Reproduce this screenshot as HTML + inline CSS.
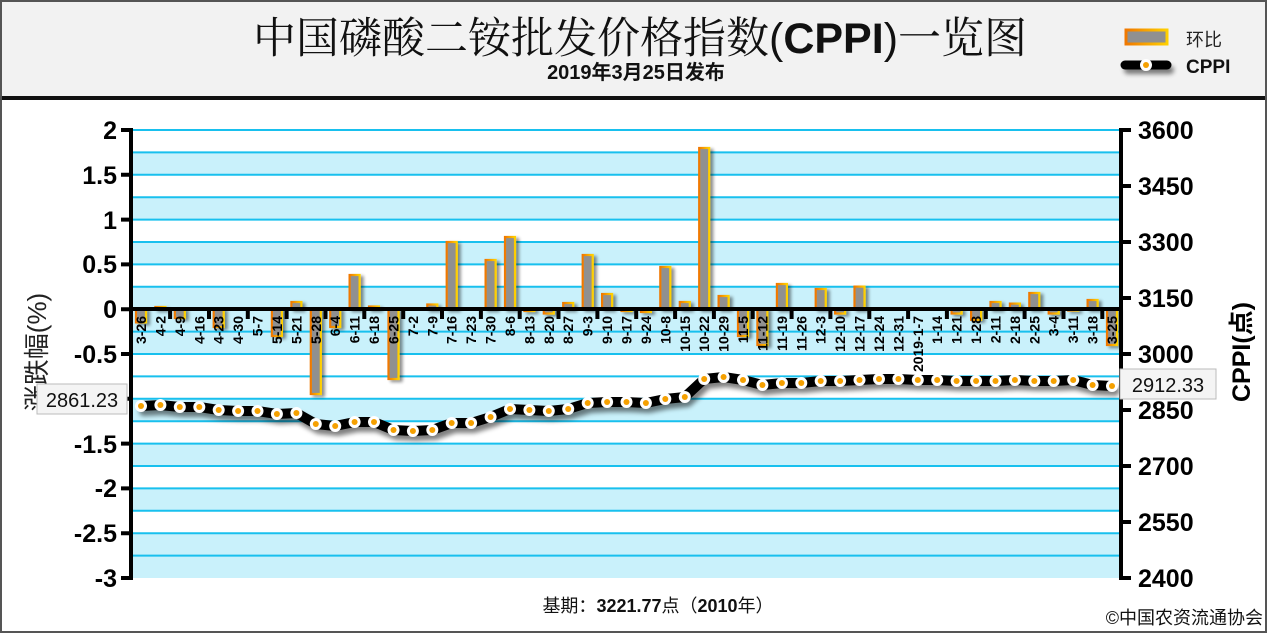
<!DOCTYPE html>
<html><head><meta charset="utf-8"><style>
html,body{margin:0;padding:0;background:#fff;}
svg{display:block;font-family:"Liberation Sans","Noto Sans CJK SC",sans-serif;}
</style></head><body>
<svg width="1269" height="636" viewBox="0 0 1269 636" xmlns="http://www.w3.org/2000/svg">
<defs>
<filter id="sh" filterUnits="userSpaceOnUse" x="100" y="340" width="1050" height="120"><feGaussianBlur in="SourceAlpha" stdDeviation="2.5"/><feOffset dx="3" dy="5" result="b"/><feComponentTransfer><feFuncA type="linear" slope="0.5"/></feComponentTransfer><feMerge><feMergeNode/><feMergeNode in="SourceGraphic"/></feMerge></filter>
<filter id="bs" filterUnits="userSpaceOnUse" x="100" y="120" width="1050" height="300"><feGaussianBlur in="SourceAlpha" stdDeviation="1.5"/><feOffset dx="3" dy="2"/><feComponentTransfer><feFuncA type="linear" slope="0.45"/></feComponentTransfer><feMerge><feMergeNode/><feMergeNode in="SourceGraphic"/></feMerge></filter>
<filter id="lb" filterUnits="userSpaceOnUse" x="1100" y="50" width="100" height="40"><feGaussianBlur stdDeviation="2.5"/></filter>
<linearGradient id="og" x1="0" y1="0" x2="1" y2="0"><stop offset="0" stop-color="#f07800"/><stop offset="1" stop-color="#ffd000"/></linearGradient>
</defs>
<rect x="1" y="1" width="1265" height="631" fill="#fff" stroke="#555" stroke-width="2"/>
<rect x="2" y="2" width="1263" height="95" fill="#f2f2f2"/>
<rect x="2" y="96" width="1263" height="4" fill="#111"/>
<text x="640" y="53" font-size="43" text-anchor="middle" fill="#111" font-family="'Liberation Sans','Noto Serif CJK SC','Noto Sans CJK SC',serif">中国磷酸二铵批发价格指数(<tspan font-weight="bold" font-family="'Liberation Sans',sans-serif">CPPI</tspan>)一览图</text>
<text x="636" y="79" font-size="20" font-weight="bold" text-anchor="middle" fill="#111">2019年3月25日发布</text>
<rect x="1126" y="30" width="41" height="14" fill="#909090" stroke="url(#og)" stroke-width="3"/>
<text x="1186" y="46" font-size="18" fill="#222">环比</text>
<line x1="1128" y1="70" x2="1170" y2="70" stroke="#000" stroke-width="8" stroke-linecap="round" opacity="0.5" filter="url(#lb)"/>
<line x1="1125" y1="65" x2="1167" y2="65" stroke="#000" stroke-width="9" stroke-linecap="round"/>
<circle cx="1146" cy="65" r="6" fill="#fff"/><circle cx="1146" cy="65" r="3" fill="#f5a000"/>
<text x="1186" y="73" font-size="19" font-weight="bold" fill="#111">CPPI</text>
<!-- bands -->
<g fill="#c9f1fb">
<rect x="133" y="152.4" width="988" height="22.4"/><rect x="133" y="197.2" width="988" height="22.4"/><rect x="133" y="242" width="988" height="22.4"/><rect x="133" y="286.8" width="988" height="66.4"/><rect x="133" y="398.8" width="988" height="22.4"/><rect x="133" y="443.6" width="988" height="22.4"/><rect x="133" y="488.4" width="988" height="22.4"/><rect x="133" y="533.2" width="988" height="44.8"/>
</g>
<g stroke="#18c0ee" stroke-width="2">
<path d="M133 130H1121M133 152.4H1121M133 174.8H1121M133 197.2H1121M133 219.6H1121M133 242H1121M133 264.4H1121M133 286.8H1121M133 331.6H1121M133 354H1121M133 376.4H1121M133 398.8H1121M133 421.2H1121M133 443.6H1121M133 466H1121M133 488.4H1121M133 510.8H1121M133 533.2H1121M133 555.6H1121"/>
</g>
<!-- bars -->
<g fill="#909090" stroke="url(#og)" stroke-width="2.2" filter="url(#bs)">
<rect x="136" y="309" width="10" height="13.4"/>
<rect x="155.4" y="307" width="10" height="2"/>
<rect x="174.8" y="309" width="10" height="9"/>
<rect x="213.7" y="309" width="10" height="18"/>
<rect x="271.9" y="309" width="10" height="27"/>
<rect x="291.4" y="302" width="10" height="7"/>
<rect x="310.8" y="309" width="10" height="85"/>
<rect x="330.2" y="309" width="10" height="18"/>
<rect x="349.6" y="275" width="10" height="34"/>
<rect x="369" y="306.5" width="10" height="2.5"/>
<rect x="388.5" y="309" width="10" height="70"/>
<rect x="427.3" y="304.5" width="10" height="4.5"/>
<rect x="446.7" y="242" width="10" height="67"/>
<rect x="485.6" y="260" width="10" height="49"/>
<rect x="505" y="237" width="10" height="72"/>
<rect x="524.4" y="309" width="10" height="2"/>
<rect x="543.8" y="309" width="10" height="4.5"/>
<rect x="563.2" y="303" width="10" height="6"/>
<rect x="582.7" y="255" width="10" height="54"/>
<rect x="602.1" y="294" width="10" height="15"/>
<rect x="621.5" y="309" width="10" height="2"/>
<rect x="640.9" y="309" width="10" height="3"/>
<rect x="660.3" y="267" width="10" height="42"/>
<rect x="679.8" y="302" width="10" height="7"/>
<rect x="699.2" y="148" width="10" height="161"/>
<rect x="718.6" y="296" width="10" height="13"/>
<rect x="738" y="309" width="10" height="27"/>
<rect x="757.4" y="309" width="10" height="36"/>
<rect x="776.9" y="284" width="10" height="25"/>
<rect x="815.7" y="289" width="10" height="20"/>
<rect x="835.1" y="309" width="10" height="4.5"/>
<rect x="854.5" y="286.6" width="10" height="22.4"/>
<rect x="951.6" y="309" width="10" height="4.5"/>
<rect x="971.1" y="309" width="10" height="10.8"/>
<rect x="990.5" y="302" width="10" height="7"/>
<rect x="1009.9" y="303.6" width="10" height="5.4"/>
<rect x="1029.3" y="293" width="10" height="16"/>
<rect x="1048.7" y="309" width="10" height="4.5"/>
<rect x="1068.2" y="309" width="10" height="1.5"/>
<rect x="1087.6" y="300" width="10" height="9"/>
<rect x="1107" y="309" width="10" height="36"/>
</g>
<!-- zero axis -->
<rect x="131" y="307" width="990" height="4" fill="#000"/>
<path d="M170.1 309v10M209 309v10M247.8 309v10M286.6 309v10M325.5 309v10M364.3 309v10M403.2 309v10M442 309v10M480.9 309v10M519.7 309v10M558.5 309v10M597.4 309v10M636.2 309v10M675.1 309v10M713.9 309v10M752.7 309v10M791.6 309v10M830.4 309v10M869.3 309v10M908.1 309v10M946.9 309v10M985.8 309v10M1024.6 309v10M1063.5 309v10M1102.3 309v10" stroke="#000" stroke-width="4"/>
<!-- category labels -->
<g font-size="14" font-weight="bold" fill="#000" text-anchor="end">
<text transform="translate(146,316) rotate(-90)">3-26</text>
<text transform="translate(165.4,316) rotate(-90)">4-2</text>
<text transform="translate(184.8,316) rotate(-90)">4-9</text>
<text transform="translate(204.3,316) rotate(-90)">4-16</text>
<text transform="translate(223.7,316) rotate(-90)">4-23</text>
<text transform="translate(243.1,316) rotate(-90)">4-30</text>
<text transform="translate(262.5,316) rotate(-90)">5-7</text>
<text transform="translate(281.9,316) rotate(-90)">5-14</text>
<text transform="translate(301.4,316) rotate(-90)">5-21</text>
<text transform="translate(320.8,316) rotate(-90)">5-28</text>
<text transform="translate(340.2,316) rotate(-90)">6-4</text>
<text transform="translate(359.6,316) rotate(-90)">6-11</text>
<text transform="translate(379,316) rotate(-90)">6-18</text>
<text transform="translate(398.5,316) rotate(-90)">6-25</text>
<text transform="translate(417.9,316) rotate(-90)">7-2</text>
<text transform="translate(437.3,316) rotate(-90)">7-9</text>
<text transform="translate(456.7,316) rotate(-90)">7-16</text>
<text transform="translate(476.1,316) rotate(-90)">7-23</text>
<text transform="translate(495.6,316) rotate(-90)">7-30</text>
<text transform="translate(515,316) rotate(-90)">8-6</text>
<text transform="translate(534.4,316) rotate(-90)">8-13</text>
<text transform="translate(553.8,316) rotate(-90)">8-20</text>
<text transform="translate(573.2,316) rotate(-90)">8-27</text>
<text transform="translate(592.7,316) rotate(-90)">9-3</text>
<text transform="translate(612.1,316) rotate(-90)">9-10</text>
<text transform="translate(631.5,316) rotate(-90)">9-17</text>
<text transform="translate(650.9,316) rotate(-90)">9-24</text>
<text transform="translate(670.3,316) rotate(-90)">10-8</text>
<text transform="translate(689.8,316) rotate(-90)">10-15</text>
<text transform="translate(709.2,316) rotate(-90)">10-22</text>
<text transform="translate(728.6,316) rotate(-90)">10-29</text>
<text transform="translate(748,316) rotate(-90)">11-5</text>
<text transform="translate(767.4,316) rotate(-90)">11-12</text>
<text transform="translate(786.9,316) rotate(-90)">11-19</text>
<text transform="translate(806.3,316) rotate(-90)">11-26</text>
<text transform="translate(825.7,316) rotate(-90)">12-3</text>
<text transform="translate(845.1,316) rotate(-90)">12-10</text>
<text transform="translate(864.5,316) rotate(-90)">12-17</text>
<text transform="translate(884,316) rotate(-90)">12-24</text>
<text transform="translate(903.4,316) rotate(-90)">12-31</text>
<text transform="translate(922.8,316) rotate(-90)">2019-1-7</text>
<text transform="translate(942.2,316) rotate(-90)">1-14</text>
<text transform="translate(961.6,316) rotate(-90)">1-21</text>
<text transform="translate(981.1,316) rotate(-90)">1-28</text>
<text transform="translate(1000.5,316) rotate(-90)">2-11</text>
<text transform="translate(1019.9,316) rotate(-90)">2-18</text>
<text transform="translate(1039.3,316) rotate(-90)">2-25</text>
<text transform="translate(1058.7,316) rotate(-90)">3-4</text>
<text transform="translate(1078.2,316) rotate(-90)">3-11</text>
<text transform="translate(1097.6,316) rotate(-90)">3-18</text>
<text transform="translate(1117,316) rotate(-90)">3-25</text>
</g>
<!-- CPPI line -->
<g filter="url(#sh)">
<polyline fill="none" stroke="#000" stroke-width="10" stroke-linejoin="round" stroke-linecap="round" points="141,406 160.4,405 179.8,407 199.3,407 218.7,410 238.1,411 257.5,411 276.9,414 296.4,413 315.8,424 335.2,426 354.6,422 374,422 393.5,430 412.9,431 432.3,430 451.7,423 471.1,423 490.6,417 510,409 529.4,410 548.8,411 568.2,409 587.7,403 607.1,402 626.5,402 645.9,403 665.3,399 684.8,397 704.2,379 723.6,377 743,380 762.4,385 781.9,383 801.3,383 820.7,381 840.1,381 859.5,380 879,379 898.4,379 917.8,380 937.2,380 956.6,381 976.1,381 995.5,381 1014.9,380 1034.3,381 1053.7,381 1073.2,380 1092.6,385 1112,386"/>
</g>
<g fill="#fff">
<circle cx="141" cy="406" r="6"/><circle cx="160.4" cy="405" r="6"/><circle cx="179.8" cy="407" r="6"/><circle cx="199.3" cy="407" r="6"/><circle cx="218.7" cy="410" r="6"/><circle cx="238.1" cy="411" r="6"/><circle cx="257.5" cy="411" r="6"/><circle cx="276.9" cy="414" r="6"/><circle cx="296.4" cy="413" r="6"/><circle cx="315.8" cy="424" r="6"/><circle cx="335.2" cy="426" r="6"/><circle cx="354.6" cy="422" r="6"/><circle cx="374" cy="422" r="6"/><circle cx="393.5" cy="430" r="6"/><circle cx="412.9" cy="431" r="6"/><circle cx="432.3" cy="430" r="6"/><circle cx="451.7" cy="423" r="6"/><circle cx="471.1" cy="423" r="6"/><circle cx="490.6" cy="417" r="6"/><circle cx="510" cy="409" r="6"/><circle cx="529.4" cy="410" r="6"/><circle cx="548.8" cy="411" r="6"/><circle cx="568.2" cy="409" r="6"/><circle cx="587.7" cy="403" r="6"/><circle cx="607.1" cy="402" r="6"/><circle cx="626.5" cy="402" r="6"/><circle cx="645.9" cy="403" r="6"/><circle cx="665.3" cy="399" r="6"/><circle cx="684.8" cy="397" r="6"/><circle cx="704.2" cy="379" r="6"/><circle cx="723.6" cy="377" r="6"/><circle cx="743" cy="380" r="6"/><circle cx="762.4" cy="385" r="6"/><circle cx="781.9" cy="383" r="6"/><circle cx="801.3" cy="383" r="6"/><circle cx="820.7" cy="381" r="6"/><circle cx="840.1" cy="381" r="6"/><circle cx="859.5" cy="380" r="6"/><circle cx="879" cy="379" r="6"/><circle cx="898.4" cy="379" r="6"/><circle cx="917.8" cy="380" r="6"/><circle cx="937.2" cy="380" r="6"/><circle cx="956.6" cy="381" r="6"/><circle cx="976.1" cy="381" r="6"/><circle cx="995.5" cy="381" r="6"/><circle cx="1014.9" cy="380" r="6"/><circle cx="1034.3" cy="381" r="6"/><circle cx="1053.7" cy="381" r="6"/><circle cx="1073.2" cy="380" r="6"/><circle cx="1092.6" cy="385" r="6"/><circle cx="1112" cy="386" r="6"/>
</g>
<g fill="#f5a000">
<circle cx="141" cy="406" r="3"/><circle cx="160.4" cy="405" r="3"/><circle cx="179.8" cy="407" r="3"/><circle cx="199.3" cy="407" r="3"/><circle cx="218.7" cy="410" r="3"/><circle cx="238.1" cy="411" r="3"/><circle cx="257.5" cy="411" r="3"/><circle cx="276.9" cy="414" r="3"/><circle cx="296.4" cy="413" r="3"/><circle cx="315.8" cy="424" r="3"/><circle cx="335.2" cy="426" r="3"/><circle cx="354.6" cy="422" r="3"/><circle cx="374" cy="422" r="3"/><circle cx="393.5" cy="430" r="3"/><circle cx="412.9" cy="431" r="3"/><circle cx="432.3" cy="430" r="3"/><circle cx="451.7" cy="423" r="3"/><circle cx="471.1" cy="423" r="3"/><circle cx="490.6" cy="417" r="3"/><circle cx="510" cy="409" r="3"/><circle cx="529.4" cy="410" r="3"/><circle cx="548.8" cy="411" r="3"/><circle cx="568.2" cy="409" r="3"/><circle cx="587.7" cy="403" r="3"/><circle cx="607.1" cy="402" r="3"/><circle cx="626.5" cy="402" r="3"/><circle cx="645.9" cy="403" r="3"/><circle cx="665.3" cy="399" r="3"/><circle cx="684.8" cy="397" r="3"/><circle cx="704.2" cy="379" r="3"/><circle cx="723.6" cy="377" r="3"/><circle cx="743" cy="380" r="3"/><circle cx="762.4" cy="385" r="3"/><circle cx="781.9" cy="383" r="3"/><circle cx="801.3" cy="383" r="3"/><circle cx="820.7" cy="381" r="3"/><circle cx="840.1" cy="381" r="3"/><circle cx="859.5" cy="380" r="3"/><circle cx="879" cy="379" r="3"/><circle cx="898.4" cy="379" r="3"/><circle cx="917.8" cy="380" r="3"/><circle cx="937.2" cy="380" r="3"/><circle cx="956.6" cy="381" r="3"/><circle cx="976.1" cy="381" r="3"/><circle cx="995.5" cy="381" r="3"/><circle cx="1014.9" cy="380" r="3"/><circle cx="1034.3" cy="381" r="3"/><circle cx="1053.7" cy="381" r="3"/><circle cx="1073.2" cy="380" r="3"/><circle cx="1092.6" cy="385" r="3"/><circle cx="1112" cy="386" r="3"/>
</g>
<!-- axes -->
<path d="M131 128V580M121 130H133M121 174.8H133M121 219.6H133M121 264.4H133M121 309.2H133M121 354H133M121 398.8H133M121 443.6H133M121 488.4H133M121 533.2H133M121 578H133" stroke="#000" stroke-width="4" fill="none"/>
<path d="M1121 128V580M1119 130H1131M1119 186H1131M1119 242H1131M1119 298H1131M1119 354H1131M1119 410H1131M1119 466H1131M1119 522H1131M1119 578H1131" stroke="#000" stroke-width="4" fill="none"/>
<g font-size="25" font-weight="bold" fill="#000" text-anchor="end">
<text x="117" y="139">2</text><text x="117" y="184">1.5</text><text x="117" y="229">1</text><text x="117" y="273">0.5</text><text x="117" y="318">0</text><text x="117" y="363">-0.5</text><text x="117" y="408">-1</text><text x="117" y="453">-1.5</text><text x="117" y="497">-2</text><text x="117" y="542">-2.5</text><text x="117" y="587">-3</text>
</g>
<g font-size="25" font-weight="bold" fill="#000">
<text x="1138" y="139">3600</text><text x="1138" y="195">3450</text><text x="1138" y="251">3300</text><text x="1138" y="307">3150</text><text x="1138" y="363">3000</text><text x="1138" y="419">2850</text><text x="1138" y="475">2700</text><text x="1138" y="531">2550</text><text x="1138" y="587">2400</text>
</g>
<text transform="translate(46,352) rotate(-90)" font-size="26" text-anchor="middle" fill="#222">涨跌幅(%)</text>
<text transform="translate(1250,352) rotate(-90)" font-size="25" font-weight="bold" text-anchor="middle" fill="#000">CPPI(点)</text>
<rect x="37" y="384" width="90" height="30" fill="#f4f4f4" stroke="#bbb" stroke-width="1"/>
<text x="82" y="407" font-size="20" text-anchor="middle" fill="#111">2861.23</text>
<rect x="1120" y="369" width="96" height="30" fill="#f4f4f4" stroke="#bbb" stroke-width="1"/>
<text x="1168" y="392" font-size="20" text-anchor="middle" fill="#111">2912.33</text>
<text x="658" y="612" font-size="18" text-anchor="middle" fill="#111">基期：<tspan font-weight="bold">3221.77</tspan>点（<tspan font-weight="bold">2010</tspan>年）</text>
<text x="1263" y="624" font-size="18" text-anchor="end" fill="#111">©中国农资流通协会</text>
</svg>
</body></html>
